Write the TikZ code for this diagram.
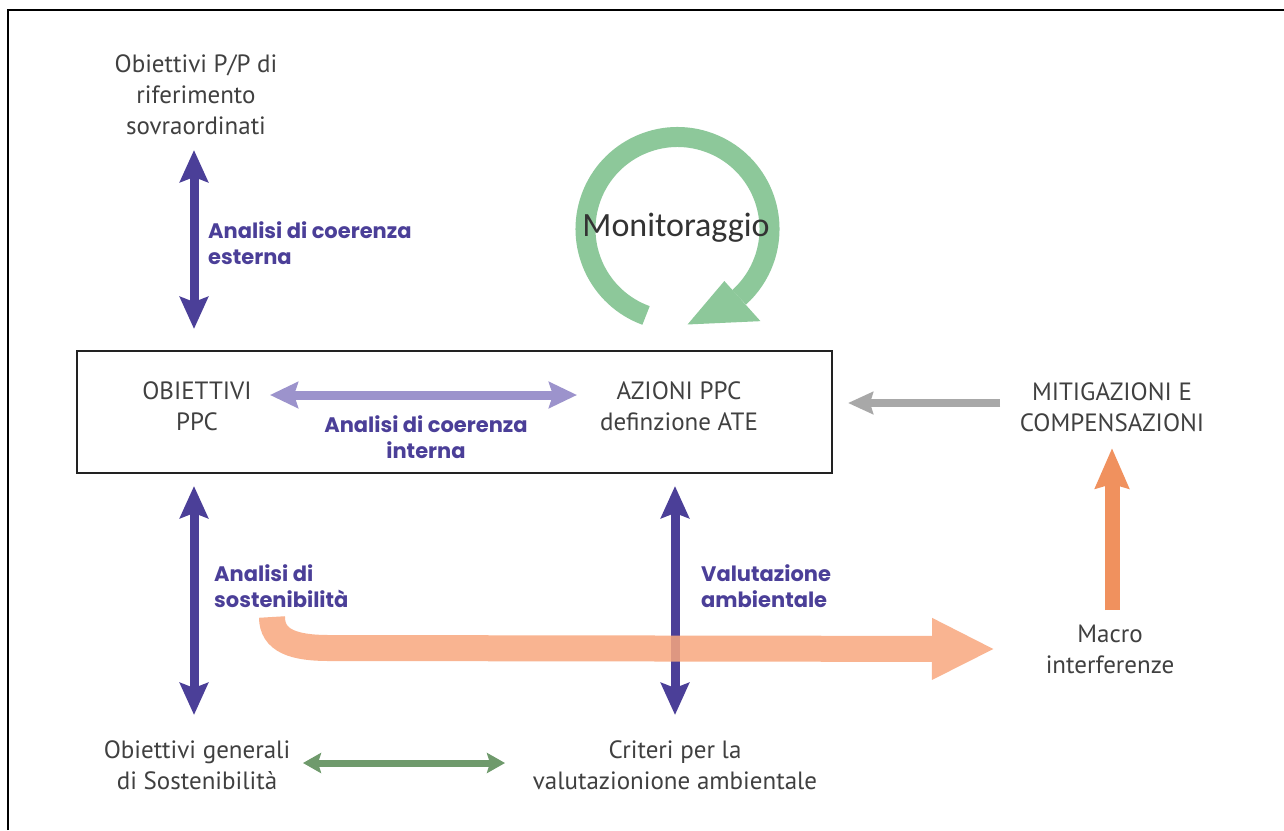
\documentclass[tikz,border=0pt]{standalone}
\usepackage{fontspec}
\setmainfont{PT Sans}
\newfontfamily\popfont{Poppins}
\newfontfamily\calfont{Carlito}
\usetikzlibrary{arrows.meta,calc}
\definecolor{txtgray}{HTML}{404040}
\definecolor{purp}{HTML}{4B3F98}
\definecolor{lpurp}{HTML}{9C93CC}
\definecolor{ringgreen}{HTML}{8DC89A}
\definecolor{agreen}{HTML}{6F9A6C}
\definecolor{agray}{HTML}{A8A8A8}
\definecolor{orbig}{HTML}{F8A77E}
\definecolor{orup}{HTML}{F0915E}
\definecolor{boxc}{HTML}{222222}
\begin{document}
\begin{tikzpicture}[x=1pt,y=-1pt,
  lbl/.style={text=txtgray, font=\fontsize{25}{31}\selectfont, align=center, inner sep=0pt},
  plbl/.style={text=purp, font=\popfont\bfseries\fontsize{21}{26.5}\selectfont, align=left, inner sep=0pt, anchor=west},
  bdbl/.style={draw=purp, line width=9pt, >={Stealth[length=32pt,width=28pt,inset=5pt]}, <->},
  ldbl/.style={draw=lpurp, line width=9pt, >={Stealth[length=28pt,width=26pt,inset=4pt]}, <->},
  gdbl/.style={draw=agreen, line width=7pt, >={Stealth[length=18pt,width=20pt,inset=3pt]}, <->},
  grayarr/.style={draw=agray, line width=8pt, >={Stealth[length=25pt,width=22pt,inset=3pt]}, ->},
  uparr/.style={draw=orup, line width=15pt, >={Stealth[length=40pt,width=33pt,inset=4pt]}, ->},
  bigarr/.style={draw=orbig, line width=26pt, >={Triangle[length=63pt,width=57pt]}, ->},
  ring/.style={draw=ringgreen, line width=20pt}
]
\useasboundingbox (0,0) rectangle (1284,830);
\fill[white] (0,0) rectangle (1284,830);
% frame
\draw[line width=1.5pt] (8,830) -- (8,10) -- (1284,10);

% nodes
\node[lbl] (ppp) at (196,95) {Obiettivi P/P di\\riferimento\\sovraordinati};
\node[draw=boxc, line width=2pt, minimum width=755pt, minimum height=122pt, inner sep=0pt] (box) at (454.5,412) {};
\node[lbl] (obj) at (197,406) {OBIETTIVI\\PPC};
\node[lbl] (az) at (679,406) {AZIONI PPC\\definzione ATE};
\node[lbl] (mit) at (1112,407) {MITIGAZIONI E\\COMPENSAZIONI};
\node[lbl] (macro) at (1110,649) {Macro\\interferenze};
\node[lbl] (ogs) at (197,765) {Obiettivi generali\\di Sostenibilità};
\node[lbl] (crit) at (675,765) {Criteri per la\\valutazionione ambientale};

\node[plbl] (ace) at (208,243) {Analisi di coerenza\\esterna};
\node[plbl, align=center, anchor=center] (aci) at (426,437) {Analisi di coerenza\\interna};
\node[plbl] (ads) at (214,586) {Analisi di\\sostenibilità};
\node[plbl] (va) at (701,586) {Valutazione\\ambientale};

% monitoring ring
\coordinate (rc) at (677.5,229);
\draw[ring] ($(rc)+(-250:92)$) arc[start angle=-250, end angle=48, radius=92];
\fill[ringgreen] ($(rc)+(48:70)$) -- ($(rc)+(48:124)$) -- ($(rc)+(84:96)$) -- cycle;
\node[inner sep=0pt, text=black!80, font=\calfont\fontsize{34}{40}\selectfont] (mon) at (676,228) {Monitoraggio};

% connectors
\draw[bdbl] ($(ppp)+(-2,55)$) -- ($(box.north -| ppp)+(-2,-21)$);
\draw[bdbl] ($(box.south -| ogs)+(-3,12)$) -- ($(ogs)+(-3,-50)$);
\draw[bdbl] ($(box.south -| crit)+(0,12)$) -- ($(crit)+(0,-50)$);
\draw[ldbl] ($(obj)+(73,-11)$) -- ($(az)+(-102,-11)$);
\draw[grayarr] ($(mit)+(-112,-4)$) -- ($(box.east)+(15,-9)$);
\draw[uparr] ($(macro)+(2,-39)$) -- ($(mit)+(0,41)$);
\draw[gdbl] ($(ogs)+(106,-2)$) -- ($(crit)+(-170,-2)$);

\begin{scope}[transparency group, opacity=0.85]
\coordinate (bs) at ($(ads.west)+(58,31)$);
\draw[bigarr] (bs) .. controls ($(bs)+(0,24)$) and ($(bs)+(22,31)$) .. ($(bs)+(57,31)$) -- ($(macro)+(-115,0)$);
\end{scope}
\end{tikzpicture}
\end{document}
